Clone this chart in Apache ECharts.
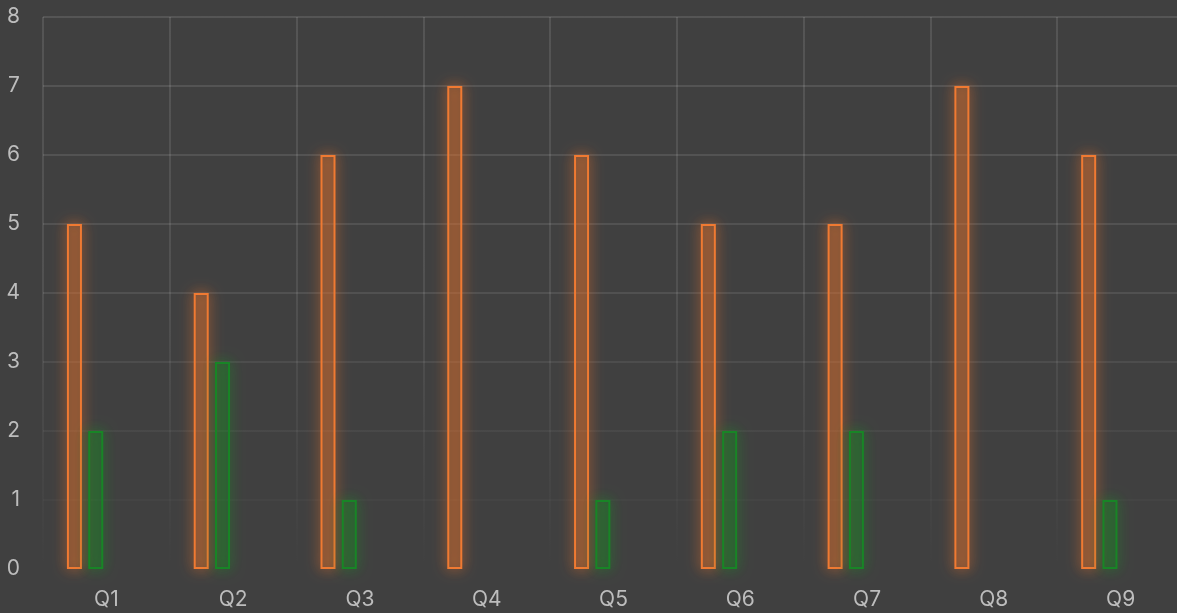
<!DOCTYPE html>
<html>
<head>
<meta charset="utf-8">
<script src="https://cdn.jsdelivr.net/npm/echarts@6/dist/echarts.min.js"></script>
<style>
html,body{margin:0;padding:0;background:#404040;overflow:hidden;}
#chart{width:1184px;height:613px;}
</style>
</head>
<body>
<div id="chart"></div>
<script>
const categories = ['Q1','Q2','Q3','Q4','Q5','Q6','Q7','Q8','Q9'];
const seriesA = [5,4,6,7,6,5,5,7,6];
const seriesB = [2,3,1,null,1,2,2,null,1];
const seriesC = [];
const seriesD = [];
const yTicks = {min:0, max:8, interval:1};

const chart = echarts.init(document.getElementById('chart'));
const gridColor = new echarts.graphic.LinearGradient(0, 17, 0, 569, [
  {offset:0, color:'rgba(255,255,255,0.11)'},
  {offset:0.5, color:'rgba(255,255,255,0.09)'},
  {offset:1, color:'rgba(255,255,255,0.0)'}
], true);
chart.setOption({
  backgroundColor:'#404040',
  animation:false,
  grid:{left:43, right:0, top:17, bottom:44, containLabel:false},
  xAxis:{
    type:'category', data:categories,
    axisLine:{show:false}, axisTick:{show:false},
    axisLabel:{color:'#bdbdbd', fontSize:21, margin:20, fontFamily:'Inter'},
    splitLine:{show:true, lineStyle:{color:gridColor, width:2}}
  },
  yAxis:{
    type:'value', min:yTicks.min, max:yTicks.max, interval:yTicks.interval,
    axisLine:{show:false}, axisTick:{show:false},
    axisLabel:{color:'#bdbdbd', fontSize:21, margin:23, fontFamily:'Inter'},
    splitLine:{show:true, lineStyle:{color:gridColor, width:2}}
  },
  series:[
    {type:'bar', data:seriesA, barWidth:15, barGap:'42%',
     itemStyle:{color:'rgba(240,120,48,0.24)', borderColor:'#f07a32', borderWidth:2,
       shadowBlur:14, shadowColor:'rgba(245,115,40,1)'}},
    {type:'bar', data:seriesB, barWidth:15, barGap:'42%',
     itemStyle:{color:'rgba(25,130,35,0.22)', borderColor:'#188526', borderWidth:2,
       shadowBlur:14, shadowColor:'rgba(25,150,35,1)'}},
    {type:'bar', data:seriesC, barWidth:15, barGap:'42%'},
    {type:'bar', data:seriesD, barWidth:15, barGap:'42%'}
  ]
});
</script>
</body>
</html>
